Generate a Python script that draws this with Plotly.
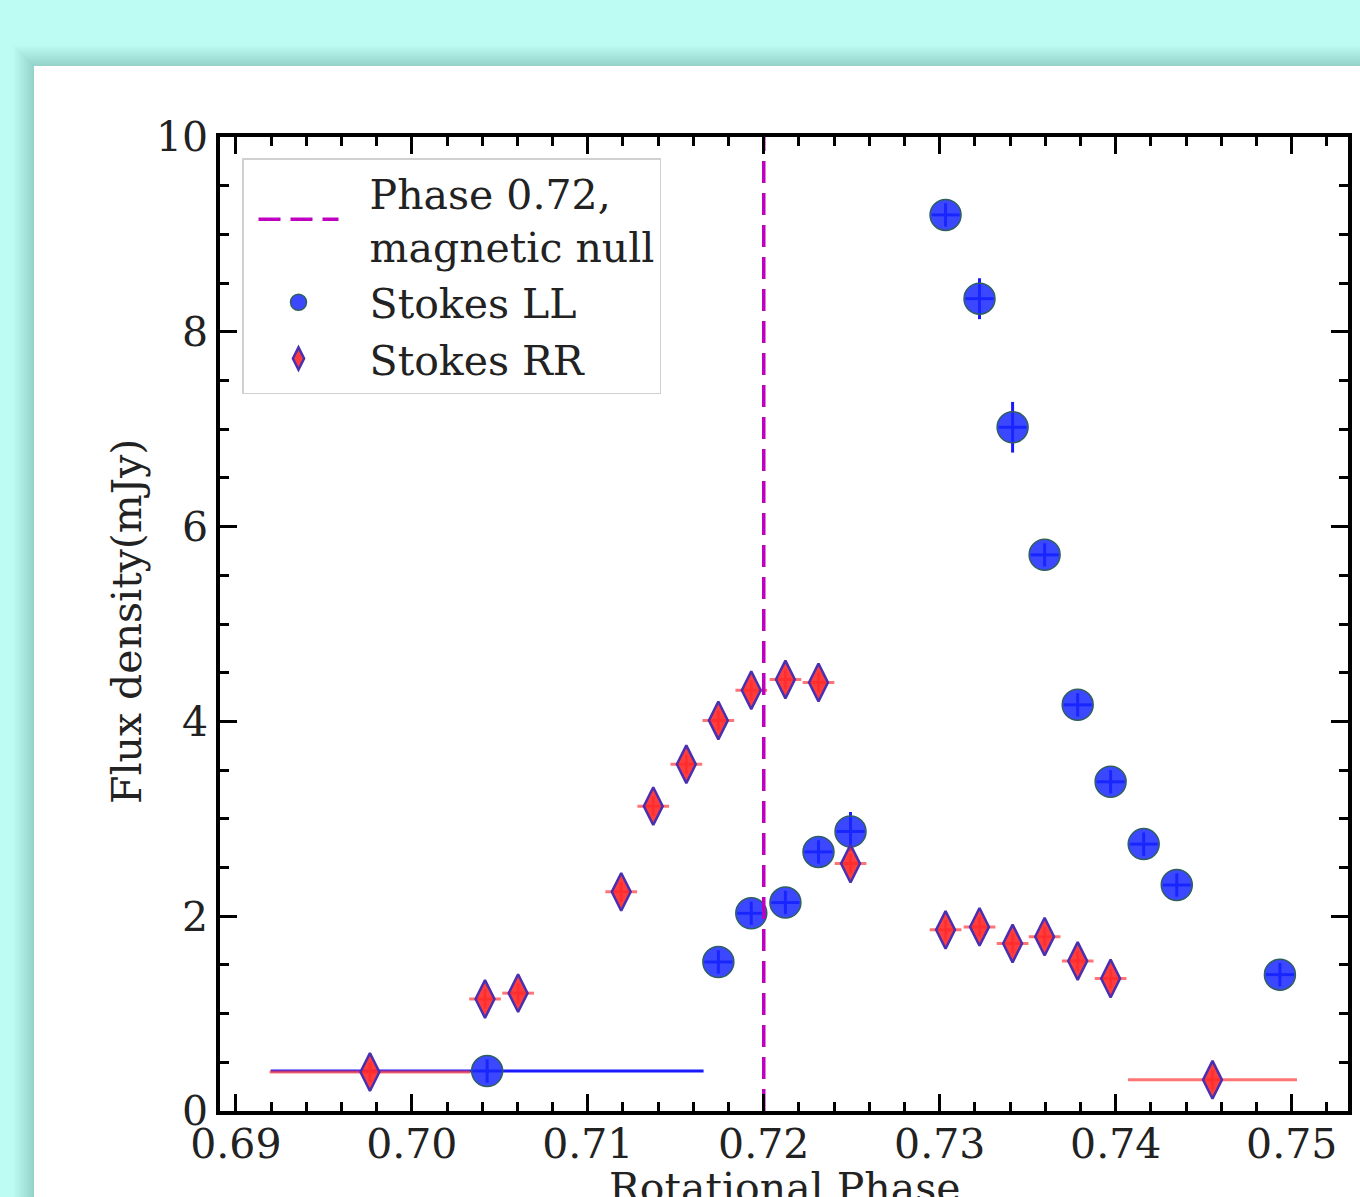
import plotly.graph_objects as go

# ---------------- data ----------------
ll_phase = [0.70428, 0.71742, 0.71929, 0.72123, 0.72311, 0.72493, 0.73033, 0.73226,
            0.73414, 0.73596, 0.73784, 0.73971, 0.74159, 0.74347, 0.74933]
ll_flux = [0.41, 1.53, 2.03, 2.14, 2.66, 2.87, 9.20, 8.34,
           7.02, 5.71, 4.17, 3.38, 2.74, 2.32, 1.40]
ll_phase_err = [0.0123, 0.0008, 0.0008, 0.0008, 0.0008, 0.0008, 0.0008, 0.0008,
                0.0008, 0.0008, 0.0008, 0.0008, 0.0008, 0.0008, 0.0008]
ll_flux_err = [0.12, 0.12, 0.12, 0.12, 0.12, 0.2, 0.12, 0.21,
               0.26, 0.12, 0.12, 0.12, 0.12, 0.12, 0.12]

rr_phase = [0.69762, 0.70416, 0.70604, 0.71190, 0.71372, 0.71560, 0.71742, 0.71929, 0.72123,
            0.72311, 0.72493, 0.73033, 0.73226, 0.73414, 0.73596, 0.73784, 0.73971, 0.74550]
rr_flux = [0.40, 1.15, 1.21, 2.25, 3.13, 3.56, 4.01, 4.32, 4.43,
           4.40, 2.54, 1.86, 1.89, 1.72, 1.79, 1.54, 1.36, 0.32]
rr_phase_err = [0.0057, 0.0009, 0.0009, 0.0009, 0.0009, 0.0009, 0.0009, 0.0009, 0.0009,
                0.0009, 0.0009, 0.0009, 0.0009, 0.0009, 0.0009, 0.0009, 0.0009, 0.0048]
rr_flux_err = [0.1] * len(rr_flux)

null_phase = 0.72
x_range = [0.6891, 0.7532]
y_range = [0, 10]
x_ticks = [0.69, 0.70, 0.71, 0.72, 0.73, 0.74, 0.75]
y_ticks = [0, 2, 4, 6, 8, 10]
x_title = "Rotational Phase"
y_title = "Flux density(mJy)"

# ---------------- layout geometry (pixels) ----------------
W, H = 1360, 1197
L, R, T, B = 220, 12, 137, 86
PW = W - L - R
PH = H - T - B


def px_x(p):
    return (p - L) / PW


def px_y(p):
    return (H - B - p) / PH


FONT = "DejaVu Serif"
FS = 41
TXT = "#222"

fig = go.Figure()

fig.add_trace(go.Scatter(
    x=ll_phase, y=ll_flux, mode="markers", name="  Stokes LL",
    legendrank=2, legendgroup="ll",
    marker=dict(symbol="circle", size=31, color="rgba(25,40,255,0.85)",
                line=dict(color="#2f5f5f", width=1.5)),
    error_x=dict(type="data", array=ll_phase_err, color="#1a1aff", thickness=3, width=0),
    error_y=dict(type="data", array=ll_flux_err, color="#1a1aff", thickness=3, width=0),
))

fig.add_trace(go.Scatter(
    x=rr_phase, y=rr_flux, mode="markers", name="  Stokes RR",
    legendrank=3, legendgroup="rr",
    marker=dict(symbol="diamond-tall", size=27, color="rgba(255,40,40,0.9)",
                line=dict(color="#4a2fb0", width=2.5)),
    error_x=dict(type="data", array=rr_phase_err, color="rgba(255,70,70,0.75)", thickness=3, width=0),
    error_y=dict(type="data", array=rr_flux_err, color="rgba(255,70,70,0.75)", thickness=3, width=0),
))

fig.add_trace(go.Scatter(
    x=[null_phase, null_phase], y=y_range, mode="lines",
    name="  Phase 0.72,<br>  magnetic null", legendrank=1, legendgroup="null",
    line=dict(color="#bf00bf", width=3.5, dash="22px,10px"),
))

# white panel with soft shadow
shapes = []
for k in range(10, 0, -1):
    shapes.append(dict(type="rect", xref="paper", yref="paper",
                       x0=px_x(34 - 2 * k), x1=1.3, y0=-0.4, y1=px_y(66 - 2 * k),
                       fillcolor="rgba(0,70,70,0.02)", line=dict(width=0), layer="below"))
shapes.append(dict(type="rect", xref="paper", yref="paper",
                   x0=px_x(34), x1=1.3, y0=-0.4, y1=px_y(66),
                   fillcolor="white", line=dict(width=0), layer="below"))

annotations = [
    dict(text=x_title, xref="paper", yref="paper", x=px_x(784), y=px_y(1162),
         xanchor="center", yanchor="top", showarrow=False,
         font=dict(family=FONT, size=FS, color=TXT)),
    dict(text=y_title, xref="paper", yref="paper", x=px_x(127), y=px_y(622),
         xanchor="center", yanchor="middle", textangle=-90, showarrow=False,
         font=dict(family=FONT, size=FS, color=TXT)),
]

axis_common = dict(
    showline=True, linewidth=3.5, linecolor="black", mirror="ticks",
    ticks="inside", ticklen=17, tickwidth=3, tickcolor="black",
    showgrid=False, zeroline=False,
    tickfont=dict(family=FONT, size=FS, color=TXT),
)

fig.update_layout(
    width=W, height=H,
    margin=dict(l=L, r=R, t=T, b=B, autoexpand=False),
    paper_bgcolor="#bcfcf3",
    plot_bgcolor="white",
    shapes=shapes,
    annotations=annotations,
    font=dict(family=FONT, size=FS, color=TXT),
    xaxis=dict(range=x_range, tickvals=x_ticks, ticktext=[f"{v:.2f}" for v in x_ticks],
               ticklabelstandoff=-6,
               minor=dict(dtick=0.002, tick0=0.69, ticks="inside", ticklen=9, tickwidth=2.5,
                          tickcolor="black"),
               **axis_common),
    yaxis=dict(range=y_range, tickvals=y_ticks, ticktext=[str(v) for v in y_ticks],
               minor=dict(dtick=0.5, tick0=0, ticks="inside", ticklen=9, tickwidth=2.5,
                          tickcolor="black"),
               **axis_common),
    legend=dict(x=px_x(242), y=px_y(158), xanchor="left", yanchor="top",
                bgcolor="rgba(255,255,255,0.9)", bordercolor="#d0d0d0", borderwidth=1.5,
                font=dict(family=FONT, size=FS, color=TXT),
                itemwidth=80, indentation=10, tracegroupgap=0, traceorder="normal"),
)

fig.write_html("out.html")
